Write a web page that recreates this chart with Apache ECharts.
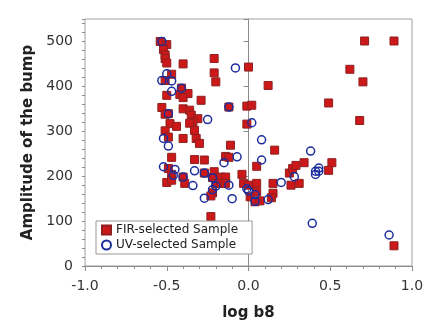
<!DOCTYPE html>
<html><head><meta charset="utf-8">
<script src="https://cdn.jsdelivr.net/npm/echarts@6/dist/echarts.min.js"></script>
<style>html,body{margin:0;padding:0;background:#fff}#c{width:436px;height:327px}</style>
</head><body><div id="c"></div>
<script>
const firLogB8 = [-0.54,-0.50,-0.52,-0.51,-0.51,-0.50,-0.40,-0.21,-0.21,-0.20,0.00,-0.47,-0.51,-0.41,-0.50,-0.42,-0.37,-0.40,-0.29,-0.53,-0.40,-0.36,-0.12,-0.01,0.02,-0.51,-0.49,-0.35,-0.31,-0.34,-0.36,-0.48,-0.44,-0.51,-0.49,-0.40,-0.33,-0.32,-0.30,-0.01,-0.11,-0.47,-0.33,-0.27,-0.14,-0.12,0.05,-0.49,-0.47,-0.40,-0.50,-0.47,-0.39,-0.27,-0.21,-0.22,-0.20,-0.17,-0.14,-0.17,-0.14,-0.04,-0.03,0.00,0.05,0.05,-0.22,-0.23,0.01,0.04,0.07,-0.23,0.15,0.15,0.14,0.16,0.12,0.25,0.27,0.29,0.34,0.26,0.31,0.51,0.49,0.49,0.62,0.70,0.71,0.89,0.68,0.89];
const firAmp = [500,493,482,470,462,452,450,462,430,410,443,427,413,396,380,382,384,375,369,353,350,347,354,356,358,338,339,336,328,321,318,317,311,301,287,284,302,284,273,316,269,242,237,236,244,242,222,217,204,198,186,191,184,207,210,197,184,198,198,184,184,204,184,180,184,165,163,156,154,143,145,110,184,162,152,258,402,207,217,224,230,180,184,230,213,363,438,410,501,501,324,45];
const uvLogB8 = [-0.53,-0.08,-0.50,-0.53,-0.47,-0.47,-0.41,-0.25,-0.12,-0.49,0.02,0.08,-0.52,-0.49,-0.15,-0.07,0.08,-0.52,-0.45,-0.46,-0.40,-0.33,-0.34,-0.27,-0.22,-0.20,-0.22,-0.12,-0.27,-0.10,-0.01,0.00,0.04,0.04,0.12,0.20,0.28,0.38,0.41,0.43,0.43,0.41,0.39,0.86];
const uvAmp = [500,441,428,413,412,389,396,326,354,339,319,281,284,267,230,243,236,221,215,202,198,212,179,207,196,178,170,180,151,150,172,167,159,144,148,186,199,256,211,218,211,204,95,69];
const xTicks = [-1.0,-0.5,0.0,0.5,1.0];
const yTicks = [0,100,200,300,400,500];

const zip = (a,b)=>a.map((v,i)=>[v,b[i]]);
const chart = echarts.init(document.getElementById('c'));
const txt = '#333';
const lineC = '#8c8c8c';
chart.setOption({
  animation:false,
  grid:{left:85,right:24,top:19,bottom:61,show:true,borderColor:'#a0a0a0',borderWidth:1},
  legend:{
    orient:'vertical',left:96,top:221,width:160,
    backgroundColor:'#fff',borderColor:'#999',borderWidth:1,
    padding:[3,14,3,5],itemGap:3,itemWidth:9,itemHeight:9,
    textStyle:{fontFamily:'DejaVu Sans',fontSize:12,color:'#222'},
    data:['FIR-selected Sample','UV-selected Sample']
  },
  xAxis:{
    type:'value',min:-1,max:1,interval:0.5,
    name:'log b8',nameLocation:'middle',nameGap:40,
    nameTextStyle:{fontFamily:'DejaVu Sans',fontWeight:'bold',fontSize:15,color:'#222'},
    axisLine:{lineStyle:{color:lineC}},
    axisTick:{show:true,length:5,lineStyle:{color:lineC}},
    minorTick:{show:true,splitNumber:5,length:3,lineStyle:{color:lineC}},
    splitLine:{show:false},
    axisLabel:{fontFamily:'DejaVu Sans',fontSize:14,color:txt,margin:13,
      formatter:v=>{const t=xTicks.find(k=>Math.abs(k-v)<1e-6);return t===undefined?'':t.toFixed(1);}}
  },
  yAxis:[{
    type:'value',min:0,max:550,interval:100,
    name:'Amplitude of the bump',nameLocation:'middle',nameGap:45,nameRotate:90,
    nameTextStyle:{fontFamily:'DejaVu Sans',fontWeight:'bold',fontSize:15,color:'#222'},
    axisLine:{show:true,lineStyle:{color:lineC}},
    axisTick:{show:true,length:5,lineStyle:{color:lineC}},
    splitLine:{show:false},
    axisLabel:{fontFamily:'DejaVu Sans',fontSize:14,color:txt,margin:12,
      formatter:v=>yTicks.includes(v)?String(v):''}
  },{
    type:'value',min:0,max:550,interval:20,position:'left',
    axisLine:{show:false},
    axisTick:{show:true,length:3,lineStyle:{color:lineC}},
    axisLabel:{show:false},splitLine:{show:false}
  }],
  series:[{
    name:'FIR-selected Sample',type:'scatter',symbol:'rect',symbolSize:8,
    itemStyle:{color:'#cc1818',borderColor:'#8e2020',borderWidth:1,opacity:1},
    data:zip(firLogB8,firAmp)
  },{
    name:'UV-selected Sample',type:'scatter',symbol:'circle',symbolSize:8,
    itemStyle:{color:'rgba(255,255,255,0)',borderColor:'#1c2d9c',borderWidth:1.5,opacity:1},
    data:zip(uvLogB8,uvAmp)
  }]
});
</script></body></html>
